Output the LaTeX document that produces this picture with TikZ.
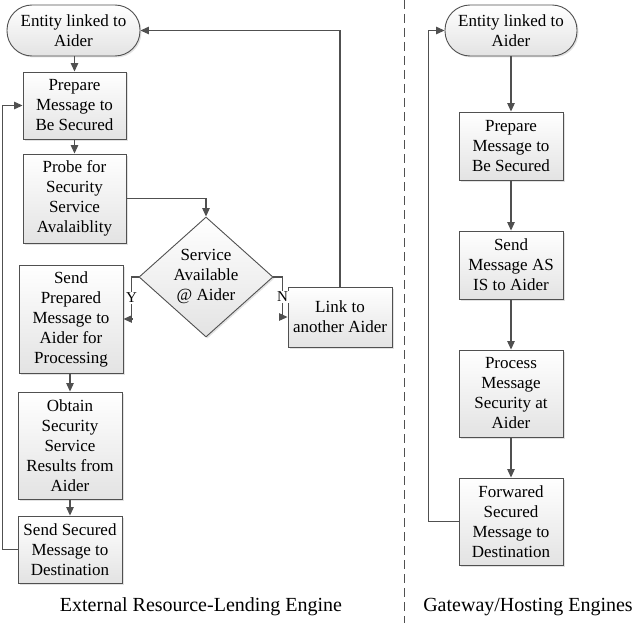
\documentclass[tikz,border=0pt]{standalone}
\usepackage{fontspec}
\setmainfont{Liberation Serif}
\usetikzlibrary{arrows.meta,shapes.geometric,shadows}
\definecolor{linec}{HTML}{505050}
\begin{document}
\begin{tikzpicture}[x=1pt,y=-1pt,
  txt/.style={font=\fontsize{17}{20}\selectfont, align=center},
  box/.style={txt, draw=linec, line width=0.9pt, top color=white, bottom color=gray!22,
    drop shadow={shadow xshift=1.5pt, shadow yshift=-1.5pt, fill=gray!45},
    inner sep=0pt, minimum width=104pt},
  term/.style={box, rounded corners=25pt},
  dia/.style={diamond, draw=linec, line width=0.9pt, top color=white, bottom color=gray!22,
    drop shadow={shadow xshift=1.5pt, shadow yshift=-1.5pt, fill=gray!45},
    inner sep=0pt, minimum width=134pt, minimum height=120pt},
  arr/.style={draw=linec, line width=1.1pt, -{Triangle[length=8.5pt,width=7.5pt]}},
  yn/.style={font=\fontsize{15}{17}\selectfont, fill=white, inner sep=1pt},
  captxt/.style={font=\fontsize{20}{24}\selectfont}
]
\useasboundingbox (0,0) rectangle (636,623);
% left flow
\node[term, minimum width=133pt, minimum height=51pt] (lt) at (73.5,30.5) {Entity linked to\\Aider};
\node[box, minimum width=103pt, minimum height=67pt] (lp) at (74.5,105.5) {Prepare\\Message to\\Be Secured};
\node[box, minimum width=103pt, minimum height=89pt] (lpr) at (74.5,198.5) {Probe for\\Security\\Service\\Avalaiblity};
\node[dia] (ld) at (206,277) {};
\node[txt] (ldt) at (206,276) {Service\\Available\\@ Aider};
\node[box, minimum height=108pt] (ls) at (71,319) {Send\\Prepared\\Message to\\Aider for\\Processing};
\node[box, minimum height=60pt] (ll) at (340,317) {Link to\\another Aider};
\node[box, minimum height=107pt] (lo) at (70,445.5) {Obtain\\Security\\Service\\Results from\\Aider};
\node[box, minimum height=67pt] (lss) at (70,549.5) {Send Secured\\Message to\\Destination};
% left connectors
\draw[arr] (lt.south -| lp.north) -- (lp.north);
\draw[arr] (lp) -- (lpr);
\draw[arr] (lpr.east) -| (ld.north);
\draw[arr] (ld.west) -- ++(-7,0) |- (ls.east) node[yn, pos=0.25] {Y};
\draw[arr] (ld.east) -- ++(9,0) |- (ll.west) node[yn, pos=0.25] {N};
\draw[arr] (ll.north) |- (lt.east);
\draw[arr] (ls.south -| lo.north) -- (lo.north);
\draw[arr] (lo) -- (lss);
\draw[arr] (lss.west) -- ++(-15,0) |- (lp.west);
% divider
\coordinate (dtop) at (404,0);
\coordinate (dbot) at (404,623);
\draw[linec, line width=0.9pt, dash pattern=on 9pt off 5pt] (dtop) -- (dbot);
% right flow
\node[term, minimum width=132pt, minimum height=51pt] (rt) at (511,30.5) {Entity linked to\\Aider};
\node[box, minimum height=68pt] (rp) at (511,146) {Prepare\\Message to\\Be Secured};
\node[box, minimum height=68pt] (rs) at (511,265) {Send\\Message AS\\IS to Aider};
\node[box, minimum height=87pt] (rpr) at (511,393.5) {Process\\Message\\Security at\\Aider};
\node[box, minimum height=87pt] (rf) at (511,521.5) {Forwared\\Secured\\Message to\\Destination};
\draw[arr] (rt) -- (rp);
\draw[arr] (rp) -- (rs);
\draw[arr] (rs) -- (rpr);
\draw[arr] (rpr) -- (rf);
\draw[arr] (rf.west) -- ++(-30,0) |- (rt.west);
% captions
\node[captxt] (c1) at (201,607) {External Resource-Lending Engine};
\node[captxt] (c2) at (528,607) {Gateway/Hosting Engines};
\end{tikzpicture}
\end{document}
